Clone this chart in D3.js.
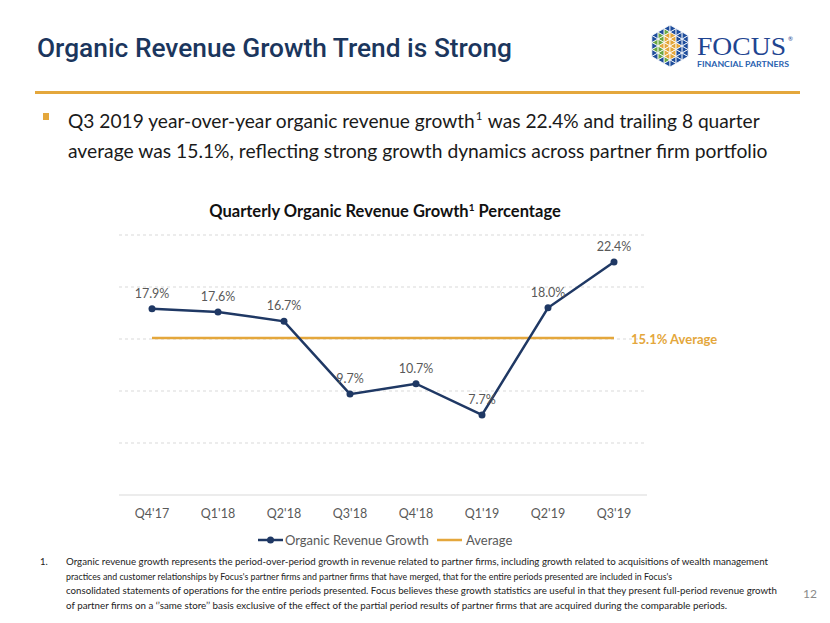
<!DOCTYPE html>
<html><head><meta charset="utf-8">
<script src="https://cdn.jsdelivr.net/npm/d3@7"></script>
<style>body{margin:0;background:#fff}svg{display:block}</style>
</head><body>
<script>
const quarters = ["Q4'17","Q1'18","Q2'18","Q3'18","Q4'18","Q1'19","Q2'19","Q3'19"];
const growth = [17.9,17.6,16.7,9.7,10.7,7.7,18.0,22.4];
const averageValue = 15.1;
const yTicks = [0,5,10,15,20,25];
const seriesNames = ["Organic Revenue Growth","Average"];
const footnoteLines = [
  "Organic revenue growth represents the period-over-period growth in revenue related to partner firms, including growth related to acquisitions of wealth management",
  "practices and customer relationships by Focus's partner firms and partner firms that have merged, that for the entire periods presented are included in Focus's",
  "consolidated statements of operations for the entire periods presented. Focus believes these growth statistics are useful in that they present full-period revenue growth",
  "of partner firms on a \u2018\u2019same store\u2019\u2019 basis exclusive of the effect of the partial period results of partner firms that are acquired during the comparable periods."
];

const W = 830, H = 623;
const NAVY = "#1F3864", GOLD = "#E4A73C", GRAY = "#595959";
const svg = d3.select("body").append("svg").attr("width", W).attr("height", H);
const sans = "Lato, 'Open Sans', 'Liberation Sans', sans-serif";

// Title
svg.append("text").attr("x", 37).attr("y", 57)
  .attr("font-family", "Roboto, 'Liberation Sans', sans-serif").attr("font-weight", 500)
  .attr("font-size", 25).attr("fill", "#1B365D")
  .attr("textLength", 475).attr("lengthAdjust", "spacingAndGlyphs")
  .text("Organic Revenue Growth Trend is Strong");

// gold rule
svg.append("rect").attr("x", 35).attr("y", 91).attr("width", 765).attr("height", 3).attr("fill", GOLD);

// Logo
(function(){
  const cx = 670, cy = 46, R = 21, n = 3;
  const g = svg.append("g");
  const verts = d3.range(6).map(i => { const a = Math.PI/2 + i*Math.PI/3; return [cx + R*Math.cos(a), cy - R*Math.sin(a)]; });
  for (let k = 0; k < 6; k++) {
    const A = [cx, cy], B = verts[k], C = verts[(k+1)%6];
    const P = (i,j) => [A[0] + (B[0]-A[0])*i/n + (C[0]-A[0])*j/n, A[1] + (B[1]-A[1])*i/n + (C[1]-A[1])*j/n];
    for (let i = 0; i < n; i++) for (let j = 0; j < n - i; j++) {
      const tris = [[P(i,j), P(i+1,j), P(i,j+1)]];
      if (i + j < n - 1) tris.push([P(i+1,j), P(i+1,j+1), P(i,j+1)]);
      tris.forEach(t => {
        const mx = (t[0][0]+t[1][0]+t[2][0])/3, my = (t[0][1]+t[1][1]+t[2][1])/3;
        const r = Math.hypot(mx-cx, my-cy)/R;
        let col = "#1F4E9C";
        if (r < 0.42) col = GOLD;
        else if (r < 0.75) col = (mx < cx - 4) ? "#6BA743" : (mx > cx + 4 ? "#1F4E9C" : GOLD);
        g.append("path").attr("d", "M" + t.map(p => p.join(",")).join("L") + "Z")
          .attr("fill", col).attr("stroke", "#fff").attr("stroke-width", 0.8);
      });
    }
  }
  svg.append("text").attr("x", 697).attr("y", 55).attr("font-family", "'Liberation Serif', 'DejaVu Serif', serif")
    .attr("font-size", 26).attr("fill", "#1F4591").attr("textLength", 89).attr("lengthAdjust", "spacingAndGlyphs").text("FOCUS");
  svg.append("text").attr("x", 788).attr("y", 41).attr("font-family", sans).attr("font-size", 6).attr("fill", "#1F4591").text("\u00AE");
  svg.append("text").attr("x", 697).attr("y", 67).attr("font-family", sans).attr("font-size", 7.5).attr("font-weight", 700)
    .attr("fill", "#2A62B0").attr("textLength", 92).attr("lengthAdjust", "spacingAndGlyphs").text("FINANCIAL PARTNERS");
})();

// Bullet (each line scaled horizontally to the slide's text width)
svg.append("rect").attr("x", 43).attr("y", 113).attr("width", 6).attr("height", 7).attr("fill", GOLD);
function fitLine(yPos, width, build) {
  const g = svg.append("g");
  const t = g.append("text").attr("x", 0).attr("y", 0).attr("font-family", sans).attr("font-size", 20).attr("fill", "#1a1a1a");
  build(t);
  const w = t.node().getComputedTextLength();
  g.attr("transform", `translate(68,${yPos}) scale(${width / w},1)`);
}
fitLine(128, 690, t => {
  t.append("tspan").text("Q3 2019 year-over-year organic revenue growth");
  t.append("tspan").attr("font-size", 12).attr("dx", 1).attr("dy", -8).text("1");
  t.append("tspan").attr("dx", 1).attr("dy", 8).text(" was 22.4% and trailing 8 quarter");
});
fitLine(158, 700, t => t.text("average was 15.1%, reflecting strong growth dynamics across partner firm portfolio"));

// Chart title
const ct = svg.append("text").attr("x", 385).attr("y", 217).attr("text-anchor", "middle").attr("font-family", sans)
  .attr("font-size", 16.5).attr("font-weight", 700).attr("fill", "#111");
ct.append("tspan").text("Quarterly Organic Revenue Growth");
ct.append("tspan").attr("font-size", 10).attr("dy", -6).text("1");
ct.append("tspan").attr("dy", 6).text(" Percentage");

// Scales
const x = d3.scaleBand().domain(quarters).range([119, 647]);
const cxq = q => x(q) + x.bandwidth()/2;
const y = d3.scaleLinear().domain([0, 25]).range([495, 235]);

// gridlines
svg.append("g").selectAll("line").data(yTicks).join("line")
  .attr("x1", 119).attr("x2", 647).attr("y1", d => y(d)).attr("y2", d => y(d))
  .attr("stroke", "#D9D9D9").attr("stroke-width", 1)
  .attr("stroke-dasharray", d => d === 0 ? null : "3,3");

// x axis
const xAxis = svg.append("g").attr("transform", `translate(0,${y(0)})`)
  .call(d3.axisBottom(x).tickSize(0).tickPadding(14));
xAxis.select(".domain").remove();
xAxis.selectAll("text").attr("font-family", sans).attr("font-size", 12.5).attr("fill", GRAY);

// average line
svg.append("line").attr("x1", cxq(quarters[0])).attr("x2", cxq(quarters[quarters.length-1]))
  .attr("y1", y(averageValue)).attr("y2", y(averageValue)).attr("stroke", GOLD).attr("stroke-width", 2.5);
svg.append("text").attr("x", cxq(quarters[quarters.length-1]) + 17).attr("y", y(averageValue) + 6)
  .attr("font-family", sans).attr("font-size", 13).attr("font-weight", 700).attr("fill", GOLD)
  .text(averageValue.toFixed(1) + "% Average");

// growth line
const pts = quarters.map((q, i) => ({q, v: growth[i]}));
svg.append("path").datum(pts)
  .attr("d", d3.line().x(d => cxq(d.q)).y(d => y(d.v)))
  .attr("fill", "none").attr("stroke", NAVY).attr("stroke-width", 2.5);
svg.append("g").selectAll("circle").data(pts).join("circle")
  .attr("cx", d => cxq(d.q)).attr("cy", d => y(d.v)).attr("r", 3.5).attr("fill", NAVY);
svg.append("g").selectAll("text").data(pts).join("text")
  .attr("x", d => cxq(d.q)).attr("y", d => y(d.v) - 11).attr("text-anchor", "middle")
  .attr("font-family", sans).attr("font-size", 12.5).attr("fill", GRAY)
  .text(d => d.v.toFixed(1) + "%");

// Legend
const lg = svg.append("g").attr("transform", "translate(258,540)");
lg.append("line").attr("x1", 0).attr("x2", 25).attr("stroke", NAVY).attr("stroke-width", 2.5);
lg.append("circle").attr("cx", 12.5).attr("r", 3.5).attr("fill", NAVY);
lg.append("text").attr("x", 27).attr("y", 5).attr("font-family", sans).attr("font-size", 13).attr("fill", GRAY).text(seriesNames[0]);
lg.append("line").attr("x1", 179).attr("x2", 204).attr("stroke", GOLD).attr("stroke-width", 2.5);
lg.append("text").attr("x", 208).attr("y", 5).attr("font-family", sans).attr("font-size", 13).attr("fill", GRAY).text(seriesNames[1]);

// Footnote
svg.append("text").attr("x", 40).attr("y", 565).attr("font-family", sans).attr("font-size", 9.5).attr("fill", "#222").text("1.");
const fnWidths = [702, 606, 711, 661];
svg.append("g").selectAll("text").data(footnoteLines).join("text")
  .attr("x", 66).attr("y", (d, i) => 565 + i * 14.5)
  .attr("font-family", sans).attr("font-size", 9.5).attr("fill", "#222")
  .attr("textLength", (d, i) => fnWidths[i]).attr("lengthAdjust", "spacingAndGlyphs")
  .text(d => d);
svg.append("text").attr("x", 803).attr("y", 598).attr("font-family", sans).attr("font-size", 12).attr("fill", "#8a8a8a").text("12");
</script>
</body></html>
